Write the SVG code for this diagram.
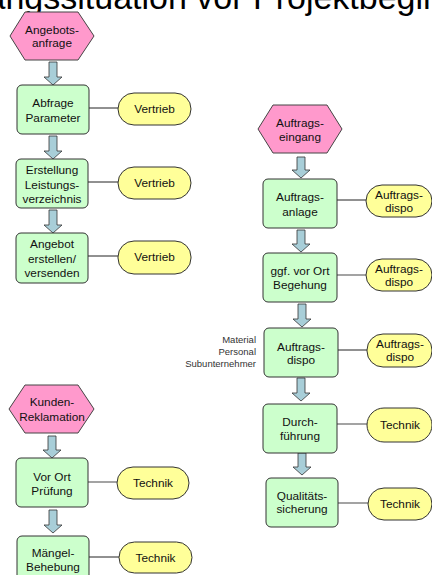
<svg xmlns="http://www.w3.org/2000/svg" width="432" height="575" viewBox="0 0 432 575">
<style>
text{font-family:"Liberation Sans",Arial,sans-serif;font-size:11.8px;fill:#111;text-anchor:middle}
.title{font-size:34px;text-anchor:start;fill:#000}
.side{font-size:9.5px;text-anchor:end;fill:#333}
.hex{fill:#FF99CC;stroke:#444;stroke-width:1}
.box{fill:#CCFFCC;stroke:#333;stroke-width:1}
.org{fill:#FFFF99;stroke:#333;stroke-width:1}
.arr{fill:#A8CED8;stroke:#333;stroke-width:0.8}
.ln{stroke:#222;stroke-width:1;fill:none}
.lg{stroke:#666;stroke-width:1.2;fill:none}
</style>
<rect width="432" height="575" fill="#fff"/>
<text class="title" x="-91" y="8.5">Ausgangssituation vor  Projektbeginn</text>

<g id="connectors">
<path class="arr" d="M49,62H57V77H62L53,85L44,77H49Z"/>
<path class="arr" d="M49,136H57V151H62L53,159L44,151H49Z"/>
<path class="arr" d="M49,210H57V225H62L53,233L44,225H49Z"/>
<path class="arr" d="M48,436H56V450H61L52,458L43,450H48Z"/>
<path class="arr" d="M49,510H57V525H62L53,533L44,525H49Z"/>
<path class="arr" d="M297,157H305V170H310L301,178L292,170H297Z"/>
<path class="arr" d="M297,230H305V244H310L301,252L292,244H297Z"/>
<path class="arr" d="M298,304H306V319H311L302,327L293,319H298Z"/>
<path class="arr" d="M297,378H305V393H310L301,401L292,393H297Z"/>
<path class="arr" d="M298,453H306V467H311L302,475L293,467H298Z"/>
<line class="ln" x1="89" y1="108" x2="118" y2="108"/>
<line class="ln" x1="88" y1="182" x2="118" y2="182"/>
<line class="ln" x1="88" y1="256" x2="118" y2="256"/>
<line class="lg" x1="88" y1="482" x2="117" y2="482"/>
<line class="ln" x1="89" y1="557" x2="119" y2="557"/>
<line class="ln" x1="337" y1="200" x2="366" y2="200"/>
<line class="lg" x1="337" y1="275" x2="366" y2="275"/>
<line class="ln" x1="338" y1="350" x2="367" y2="350"/>
<line class="lg" x1="337" y1="424" x2="367" y2="424"/>
<line class="lg" x1="338" y1="503" x2="368" y2="503"/>
</g>

<g id="angebotsanfrage"><polygon class="hex" points="10,36 25,12 78,12 94,36 78,60 25,60"/><text x="52" y="34">Angebots-</text><text x="52" y="47">anfrage</text></g>
<g id="abfrage"><rect class="box" x="17" y="85" width="72" height="49" rx="5"/><text x="53" y="107">Abfrage</text><text x="53" y="122">Parameter</text></g>
<g id="vertrieb1"><rect class="org" x="118" y="93" width="73" height="32" rx="16"/><text x="154.5" y="113">Vertrieb</text></g>
<g id="erstellung"><rect class="box" x="16" y="159" width="72" height="49" rx="5"/><text x="52" y="174">Erstellung</text><text x="52" y="189">Leistungs-</text><text x="52" y="203">verzeichnis</text></g>
<g id="vertrieb2"><rect class="org" x="118" y="167" width="73" height="32" rx="16"/><text x="154.5" y="187">Vertrieb</text></g>
<g id="angebot"><rect class="box" x="16" y="233" width="72" height="50" rx="5"/><text x="52" y="248">Angebot</text><text x="52" y="263">erstellen/</text><text x="52" y="277">versenden</text></g>
<g id="vertrieb3"><rect class="org" x="118" y="241" width="73" height="33" rx="16"/><text x="154.5" y="261">Vertrieb</text></g>

<g id="kundenreklamation"><polygon class="hex" points="9,409 25,385 78,385 94,409 78,433 25,433"/><text x="52" y="406">Kunden-</text><text x="52" y="421">Reklamation</text></g>
<g id="vorortpruefung"><rect class="box" x="16" y="458" width="72" height="49" rx="5"/><text x="52" y="481">Vor Ort</text><text x="52" y="495">Prüfung</text></g>
<g id="technik1"><rect class="org" x="117" y="467" width="72" height="32" rx="16"/><text x="153" y="487">Technik</text></g>
<g id="maengel"><rect class="box" x="17" y="536" width="72" height="49" rx="5"/><text x="53" y="557">Mängel-</text><text x="53" y="571">Behebung</text></g>
<g id="technik2"><rect class="org" x="119" y="542" width="73" height="31" rx="15.5"/><text x="155.5" y="562">Technik</text></g>

<g id="auftragseingang"><polygon class="hex" points="258,129 273,105 327,105 342,129 327,153 273,153"/><text x="300" y="127">Auftrags-</text><text x="300" y="141">eingang</text></g>
<g id="auftragsanlage"><rect class="box" x="263" y="179" width="74" height="49" rx="5"/><text x="300" y="201">Auftrags-</text><text x="300" y="216">anlage</text></g>
<g id="dispo1"><rect class="org" x="366" y="185" width="66" height="32" rx="16"/><text x="399" y="199">Auftrags-</text><text x="399" y="212">dispo</text></g>
<g id="begehung"><rect class="box" x="263" y="253" width="74" height="49" rx="5"/><text x="300" y="275">ggf. vor Ort</text><text x="300" y="289">Begehung</text></g>
<g id="dispo2"><rect class="org" x="366" y="259" width="66" height="32" rx="16"/><text x="399" y="272.5">Auftrags-</text><text x="399" y="285.5">dispo</text></g>
<g id="auftragsdispo"><rect class="box" x="264" y="328" width="74" height="49" rx="5"/><text x="301" y="351">Auftrags-</text><text x="301" y="364">dispo</text>
<text class="side" x="256" y="343">Material</text><text class="side" x="256" y="355">Personal</text><text class="side" x="256" y="367">Subunternehmer</text></g>
<g id="dispo3"><rect class="org" x="367" y="334" width="65" height="33" rx="16"/><text x="400" y="348">Auftrags-</text><text x="400" y="361">dispo</text></g>
<g id="durchfuehrung"><rect class="box" x="263" y="404" width="74" height="49" rx="5"/><text x="300" y="426">Durch-</text><text x="300" y="440">führung</text></g>
<g id="technik3"><rect class="org" x="367" y="408" width="65" height="34" rx="17"/><text x="400" y="429">Technik</text></g>
<g id="qualitaet"><rect class="box" x="266" y="478" width="72" height="49" rx="5"/><text x="302" y="500">Qualitäts-</text><text x="302" y="513">sicherung</text></g>
<g id="technik4"><rect class="org" x="368" y="488" width="64" height="32" rx="16"/><text x="400" y="508">Technik</text></g>
</svg>
